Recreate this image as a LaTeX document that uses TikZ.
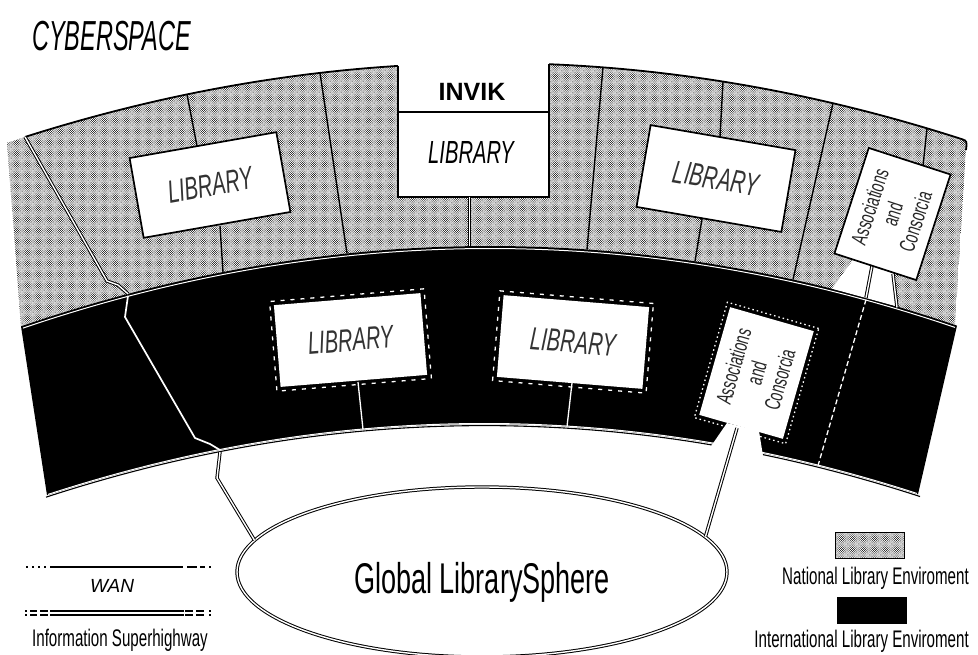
\documentclass[tikz,border=0pt]{standalone}
\usepackage{fontspec}
\setmainfont{Liberation Sans}
\newfontfamily\cond[FakeStretch=0.63]{Liberation Sans}
\newfontfamily\cyber[FakeStretch=0.56]{Liberation Sans}
\usetikzlibrary{patterns,shapes.geometric}
\pgfdeclarepatternformonly{stipple}{\pgfqpoint{-1pt}{-1pt}}{\pgfqpoint{3.2pt}{3.2pt}}{\pgfqpoint{2.2pt}{2.2pt}}{%
  \pgfpathcircle{\pgfqpoint{0pt}{0pt}}{0.5pt}%
  \pgfpathcircle{\pgfqpoint{1.1pt}{1.1pt}}{0.5pt}%
  \pgfusepath{fill}}
\tikzset{
  wan/.style={draw=black, line width=1.4pt},
  wanw/.style={draw=white, line width=1.3pt},
  hwy/.style={draw=black, double=white, double distance=1.4pt, line width=1pt},
  boxd/.style={draw=black, fill=white, line width=1.7pt, inner sep=0pt},
  boxb/.style={fill=white, inner sep=0pt},
  boxo/.style={draw=white, line width=1.3pt, dash pattern=on 4pt off 6pt, inner sep=0pt},
  libtext/.style={font=\cond\itshape\fontsize{32}{36}\selectfont, text=black!80},
  astext/.style={font=\cond\fontsize{22}{24}\selectfont, align=center, text=black!85, inner sep=0pt},
  legtext/.style={font=\cond\fontsize{24}{28}\selectfont, inner sep=0pt},
  legline/.style={draw=black, line width=1.1pt},
}
\begin{document}
\begin{tikzpicture}[x=1pt,y=-1pt,
  declare function={
    ftop(\t)=63+3.42*((\t-490)/100)*((\t-490)/100);
    fmid(\t)=246+3.65*((\t-490)/100)*((\t-490)/100);
    fbot(\t)=424+3.73*((\t-484)/100)*((\t-484)/100);
  }]
\useasboundingbox (0,0) rectangle (978,654);
\fill[white] (0,0) rectangle (978,654);

% national library band (stippled)
\fill[pattern=stipple] (7,{ftop(7)}) -- plot[domain=7:962,samples=80] (\x,{ftop(\x)}) .. controls (967,141) .. (966,150) -- (955,{fmid(955)}) -- plot[domain=955:21,samples=80] (\x,{fmid(\x)}) -- cycle;
% international library band (black)
\fill[black] (21,{fmid(21)}) -- plot[domain=21:957,samples=80] (\x,{fmid(\x)}) -- (918,{fbot(918)}) -- plot[domain=918:47,samples=80] (\x,{fbot(\x)}) -- cycle;
\draw[white, line width=1pt] plot[domain=23:955,samples=80] (\x,{fmid(\x)+2.5});

% top border
\draw[line width=1.8pt] plot[domain=25:398,samples=40] (\x,{ftop(\x)});
\draw[line width=1.8pt] plot[domain=549:962,samples=40] (\x,{ftop(\x)}) .. controls (967,141) .. (966,150);

% INVIK notch
\fill[white] (398,55) rectangle (549,197);
\draw[line width=1.5pt] (398,{ftop(398)}) -- (398,197) -- (549,197) -- (549,{ftop(549)});
\draw[line width=1.3pt] (398,112) -- (549,112);
\node[font=\bfseries\fontsize{25}{28}\selectfont, anchor=base, inner sep=0pt] (invik) at (472,100) {INVIK};
\node[libtext, text=black] (invlib) at (471,152) {LIBRARY};

% dividers in the national band
\draw[hwy] (25,{ftop(25)}) -- (107,281) -- (118,285) -- (128,{fmid(128)});
\draw[wan] (187,{ftop(187)}) -- (197,146);
\draw[wan] (220,226) -- (223,{fmid(223)});
\draw[wan] (320,{ftop(320)}) -- (347,{fmid(347)});
\draw[hwy] (469.5,197) -- (469.5,{fmid(469.5)});
\draw[wan] (603,{ftop(603)}) -- (587,{fmid(587)});
\draw[wan] (723,{ftop(723)}) -- (720,137);
\draw[wan] (702,219) -- (695,{fmid(695)});
\draw[wan] (833,{ftop(833)}) -- (793,{fmid(793)});
\draw[wan] (927,{ftop(927)}) -- (923,166);

% libraries in the national band
\node[boxd, libtext, minimum width=149pt, minimum height=81pt, rotate=10] (lib1) at (210,185) {LIBRARY};
\node[boxd, libtext, minimum width=147pt, minimum height=83pt, rotate=-9.8] (lib3) at (716,178.5) {LIBRARY};

% associations 1 with its posts
\fill[white] (853,260) -- (893,273) -- (897,{fmid(897)}) -- (832,{fmid(832)}) -- cycle;
\draw[hwy] (872,266) -- (866,{fmid(866)});
\draw[hwy] (893,274) -- (897,{fmid(897)+1});
\draw[white, line width=1.3pt, dash pattern=on 5pt off 3pt] (866,{fmid(866)+2}) -- (818,{fbot(818)});
\node[boxd, minimum width=86pt, minimum height=111pt, rotate=-18] (as1) at (892.5,214) {};
\node[astext, rotate=72] (as1t) at (as1.center) {Associations\\and\\Consorcia};

% libraries in the international band
\draw[wanw, line width=1.7pt] (128,{fmid(128)+2}) -- (125,317) -- (195,438) -- (210,444) -- (220,{fbot(220)});
\draw[wanw] (358,382) -- (363,{fbot(363)});
\draw[wanw] (572,383) -- (567,{fbot(567)});
\node[boxo, minimum width=155pt, minimum height=90pt, rotate=4.7] (lib4o) at (350.5,340) {};
\node[boxb, libtext, minimum width=147pt, minimum height=82pt, rotate=4.7] (lib4) at (350.5,340) {LIBRARY};
\node[boxo, minimum width=154pt, minimum height=90pt, rotate=-4.7] (lib5o) at (573,342) {};
\node[boxb, libtext, minimum width=146pt, minimum height=82pt, rotate=-4.7] (lib5) at (573,342) {LIBRARY};

% bottom border of the international band
\draw[white, line width=1pt] plot[domain=48:917,samples=80] (\x,{fbot(\x)-0.5});
\draw[black, line width=1.1pt] plot[domain=46:920,samples=80] (\x,{fbot(\x)+1.6});

% associations 2
\fill[white] (711,{fbot(711)+3}) -- (727,423) -- (759,431) -- (763,{fbot(763)+3}) -- cycle;
\node[boxo, dash pattern=on 1.5pt off 3pt, minimum width=95pt, minimum height=120pt, rotate=-16] (as2o) at (756.5,373) {};
\node[boxb, minimum width=87pt, minimum height=112pt, rotate=-16] (as2) at (756.5,373) {};
\node[astext, rotate=74] (as2t) at (as2.center) {Associations\\and\\Consorcia};

% global library sphere
\node[ellipse, draw=black, double=white, double distance=1.4pt, line width=1pt, minimum width=490pt, minimum height=170pt, inner sep=0pt] (gls) at (482,572) {};
\node[font=\cond\fontsize{43}{48}\selectfont, anchor=base, inner sep=0pt] (glst) at (482,593) {Global LibrarySphere};
\draw[hwy] (220,{fbot(220)+2}) -- (217,478) -- (gls.172.8);
\draw[hwy] (737,428) -- (gls.9.5);

% title
\node[font=\cyber\itshape\fontsize{42}{48}\selectfont, anchor=base west, inner sep=0pt] (cyber) at (32,50) {CYBERSPACE};

% legend left: WAN
\draw[legline, dash pattern=on 2pt off 4pt] (26,567) -- (50,567);
\draw[legline, line width=1.3pt] (50,567) -- (183,567);
\draw[legline, dash pattern=on 10pt off 3pt on 5pt off 4pt on 2pt off 3pt] (187,567) -- (212,567);
\node[font=\itshape\fontsize{19}{22}\selectfont, anchor=base, inner sep=0pt] (wanlab) at (112,592) {WAN};
% legend left: information superhighway (double line)
\foreach \yy in {611,615}{
  \draw[legline, dash pattern=on 1.5pt off 3.5pt on 7pt off 3pt on 8pt off 2pt] (25,\yy) -- (50,\yy);
  \draw[legline] (50,\yy) -- (184,\yy);
  \draw[legline, dash pattern=on 8pt off 3pt on 8pt off 5pt on 2pt off 3pt] (185,\yy) -- (213,\yy);
}
\node[legtext, anchor=base] (ishlab) at (120,646) {Information Superhighway};

% legend right
\node[draw, line width=1pt, pattern=stipple, minimum width=69pt, minimum height=26pt, inner sep=0pt] (natsw) at (869.5,545) {};
\node[legtext, anchor=base east] (natlab) at (969,584) {National Library Enviroment};
\node[fill=black, minimum width=70pt, minimum height=27pt, inner sep=0pt] (intsw) at (872,610.5) {};
\node[legtext, anchor=base east] (intlab) at (969,647) {International Library Enviroment};
\end{tikzpicture}
\end{document}
